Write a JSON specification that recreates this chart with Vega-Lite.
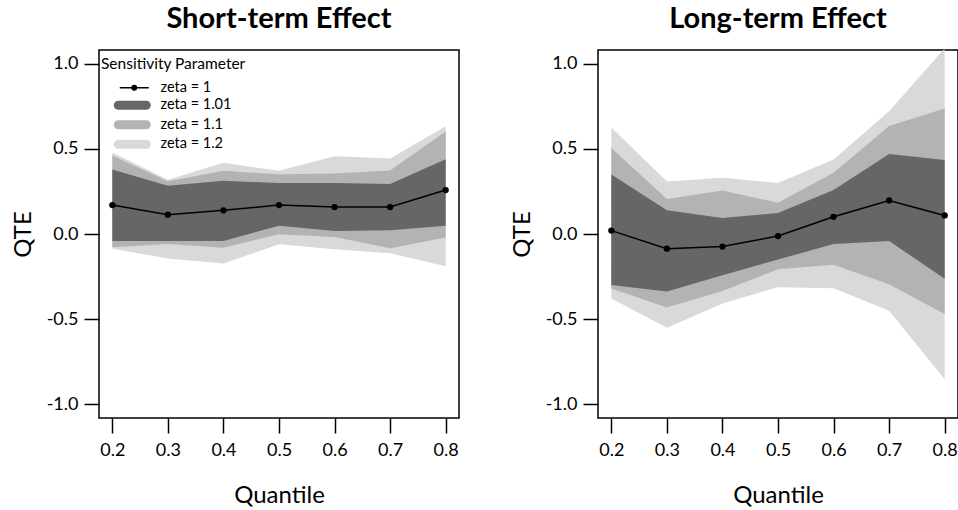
{
  "$schema": "https://vega.github.io/schema/vega-lite/v6.json",
  "padding": {"left": 10, "top": 4, "right": 0, "bottom": 0},
  "background": "white",
  "datasets": {
    "bands": [
      {"panel": "short", "quantile": 0.2, "zeta": "zeta = 1.01", "lower": -0.041, "upper": 0.379},
      {"panel": "short", "quantile": 0.3, "zeta": "zeta = 1.01", "lower": -0.041, "upper": 0.283},
      {"panel": "short", "quantile": 0.4, "zeta": "zeta = 1.01", "lower": -0.041, "upper": 0.312},
      {"panel": "short", "quantile": 0.5, "zeta": "zeta = 1.01", "lower": 0.049, "upper": 0.299},
      {"panel": "short", "quantile": 0.6, "zeta": "zeta = 1.01", "lower": 0.018, "upper": 0.300},
      {"panel": "short", "quantile": 0.7, "zeta": "zeta = 1.01", "lower": 0.022, "upper": 0.293},
      {"panel": "short", "quantile": 0.8, "zeta": "zeta = 1.01", "lower": 0.049, "upper": 0.439},
      {"panel": "short", "quantile": 0.2, "zeta": "zeta = 1.1", "lower": -0.078, "upper": 0.461},
      {"panel": "short", "quantile": 0.3, "zeta": "zeta = 1.1", "lower": -0.058, "upper": 0.309},
      {"panel": "short", "quantile": 0.4, "zeta": "zeta = 1.1", "lower": -0.080, "upper": 0.371},
      {"panel": "short", "quantile": 0.5, "zeta": "zeta = 1.1", "lower": -0.002, "upper": 0.350},
      {"panel": "short", "quantile": 0.6, "zeta": "zeta = 1.1", "lower": -0.017, "upper": 0.355},
      {"panel": "short", "quantile": 0.7, "zeta": "zeta = 1.1", "lower": -0.084, "upper": 0.373},
      {"panel": "short", "quantile": 0.8, "zeta": "zeta = 1.1", "lower": -0.021, "upper": 0.601},
      {"panel": "short", "quantile": 0.2, "zeta": "zeta = 1.2", "lower": -0.086, "upper": 0.478},
      {"panel": "short", "quantile": 0.3, "zeta": "zeta = 1.2", "lower": -0.144, "upper": 0.318},
      {"panel": "short", "quantile": 0.4, "zeta": "zeta = 1.2", "lower": -0.173, "upper": 0.418},
      {"panel": "short", "quantile": 0.5, "zeta": "zeta = 1.2", "lower": -0.060, "upper": 0.371},
      {"panel": "short", "quantile": 0.6, "zeta": "zeta = 1.2", "lower": -0.090, "upper": 0.457},
      {"panel": "short", "quantile": 0.7, "zeta": "zeta = 1.2", "lower": -0.113, "upper": 0.443},
      {"panel": "short", "quantile": 0.8, "zeta": "zeta = 1.2", "lower": -0.189, "upper": 0.632},
      {"panel": "long", "quantile": 0.2, "zeta": "zeta = 1.01", "lower": -0.300, "upper": 0.349},
      {"panel": "long", "quantile": 0.3, "zeta": "zeta = 1.01", "lower": -0.338, "upper": 0.139},
      {"panel": "long", "quantile": 0.4, "zeta": "zeta = 1.01", "lower": -0.242, "upper": 0.094},
      {"panel": "long", "quantile": 0.5, "zeta": "zeta = 1.01", "lower": -0.150, "upper": 0.123},
      {"panel": "long", "quantile": 0.6, "zeta": "zeta = 1.01", "lower": -0.059, "upper": 0.258},
      {"panel": "long", "quantile": 0.7, "zeta": "zeta = 1.01", "lower": -0.041, "upper": 0.470},
      {"panel": "long", "quantile": 0.8, "zeta": "zeta = 1.01", "lower": -0.263, "upper": 0.435},
      {"panel": "long", "quantile": 0.2, "zeta": "zeta = 1.1", "lower": -0.320, "upper": 0.505},
      {"panel": "long", "quantile": 0.3, "zeta": "zeta = 1.1", "lower": -0.431, "upper": 0.205},
      {"panel": "long", "quantile": 0.4, "zeta": "zeta = 1.1", "lower": -0.334, "upper": 0.256},
      {"panel": "long", "quantile": 0.5, "zeta": "zeta = 1.1", "lower": -0.207, "upper": 0.183},
      {"panel": "long", "quantile": 0.6, "zeta": "zeta = 1.1", "lower": -0.181, "upper": 0.359},
      {"panel": "long", "quantile": 0.7, "zeta": "zeta = 1.1", "lower": -0.295, "upper": 0.634},
      {"panel": "long", "quantile": 0.8, "zeta": "zeta = 1.1", "lower": -0.470, "upper": 0.736},
      {"panel": "long", "quantile": 0.2, "zeta": "zeta = 1.2", "lower": -0.379, "upper": 0.625},
      {"panel": "long", "quantile": 0.3, "zeta": "zeta = 1.2", "lower": -0.550, "upper": 0.308},
      {"panel": "long", "quantile": 0.4, "zeta": "zeta = 1.2", "lower": -0.408, "upper": 0.330},
      {"panel": "long", "quantile": 0.5, "zeta": "zeta = 1.2", "lower": -0.312, "upper": 0.299},
      {"panel": "long", "quantile": 0.6, "zeta": "zeta = 1.2", "lower": -0.318, "upper": 0.437},
      {"panel": "long", "quantile": 0.7, "zeta": "zeta = 1.2", "lower": -0.451, "upper": 0.720},
      {"panel": "long", "quantile": 0.8, "zeta": "zeta = 1.2", "lower": -0.853, "upper": 1.090}
    ],
    "est": [
      {"panel": "short", "quantile": 0.2, "qte": 0.170},
      {"panel": "short", "quantile": 0.3, "qte": 0.113},
      {"panel": "short", "quantile": 0.4, "qte": 0.139},
      {"panel": "short", "quantile": 0.5, "qte": 0.170},
      {"panel": "short", "quantile": 0.6, "qte": 0.158},
      {"panel": "short", "quantile": 0.7, "qte": 0.158},
      {"panel": "short", "quantile": 0.8, "qte": 0.258},
      {"panel": "long", "quantile": 0.2, "qte": 0.020},
      {"panel": "long", "quantile": 0.3, "qte": -0.086},
      {"panel": "long", "quantile": 0.4, "qte": -0.074},
      {"panel": "long", "quantile": 0.5, "qte": -0.012},
      {"panel": "long", "quantile": 0.6, "qte": 0.101},
      {"panel": "long", "quantile": 0.7, "qte": 0.197},
      {"panel": "long", "quantile": 0.8, "qte": 0.109}
    ]
  },
  "config": {
    "font": "Lato",
    "view": {"stroke": "black", "strokeWidth": 1.5},
    "axis": {
      "domain": false, "grid": false, "ticks": true,
      "tickColor": "black", "tickWidth": 1.5, "tickSize": 15,
      "labelFont": "Lato", "labelFontSize": 18, "labelColor": "black",
      "titleFont": "Lato", "titleFontSize": 24, "titleFontWeight": "normal", "titleColor": "black"
    },
    "axisX": {"labelPadding": 8, "titlePadding": 24},
    "axisY": {"labelPadding": 6, "titlePadding": 11},
    "legend": {
      "padding": 0,
      "titleFont": "Lato", "titleFontSize": 15.5, "titleFontWeight": "normal", "titleColor": "black", "titlePadding": 8,
      "labelFont": "Lato", "labelFontSize": 14.5, "labelColor": "black",
      "symbolSize": 100, "symbolOffset": 26, "labelOffset": 19, "rowPadding": 3.5
    },
    "title": {"font": "Lato", "fontSize": 29, "fontWeight": "bold", "color": "black", "anchor": "middle", "offset": 16}
  },
  "bounds": "flush",
  "spacing": 139,
  "resolve": {"scale": {"color": "independent", "stroke": "independent"}, "legend": {"color": "independent", "stroke": "independent"}},
  "hconcat": [
    {
      "title": "Short-term Effect",
      "width": 360, "height": 368,
      "layer": [
        {
          "data": {"name": "bands"},
          "transform": [{"filter": "datum.panel === 'short' && datum.zeta === 'zeta = 1.2'"}],
          "mark": {"type": "area", "opacity": 1, "clip": true},
          "encoding": {
            "x": {"field": "quantile", "type": "quantitative", "scale": {"domain": [0.176, 0.824], "nice": false, "zero": false},
                  "axis": {"values": [0.2, 0.3, 0.4, 0.5, 0.6, 0.7, 0.8], "format": ".1f", "title": "Quantile"}},
            "y": {"field": "lower", "type": "quantitative", "scale": {"domain": [-1.08, 1.08], "nice": false, "zero": false},
                  "axis": {"values": [-1, -0.5, 0, 0.5, 1], "format": ".1f", "labelExpr": "replace(datum.label, '\u2212', '-')", "title": "QTE"}},
            "y2": {"field": "upper"},
            "color": {
              "field": "zeta", "type": "nominal",
              "scale": {"domain": ["zeta = 1.01", "zeta = 1.1", "zeta = 1.2"], "range": ["#666666", "#b3b3b3", "#d9d9d9"]},
              "legend": {
                "title": null,
                "orient": "none", "legendX": 2, "legendY": 48,
                "symbolOffset": 24, "labelOffset": 21,
                "symbolType": "M-2.8,-0.9H2.8A0.9,0.9 0 0 1 2.8,0.9H-2.8A0.9,0.9 0 0 1 -2.8,-0.9Z",
                "symbolStrokeColor": "transparent",
                "symbolOpacity": 1
              }
            }
          }
        },
        {
          "data": {"name": "bands"},
          "transform": [{"filter": "datum.panel === 'short' && datum.zeta === 'zeta = 1.1'"}],
          "mark": {"type": "area", "opacity": 1, "clip": true},
          "encoding": {
            "x": {"field": "quantile", "type": "quantitative"},
            "y": {"field": "lower", "type": "quantitative"},
            "y2": {"field": "upper"},
            "color": {"field": "zeta", "type": "nominal"}
          }
        },
        {
          "data": {"name": "bands"},
          "transform": [{"filter": "datum.panel === 'short' && datum.zeta === 'zeta = 1.01'"}],
          "mark": {"type": "area", "opacity": 1, "clip": true},
          "encoding": {
            "x": {"field": "quantile", "type": "quantitative"},
            "y": {"field": "lower", "type": "quantitative"},
            "y2": {"field": "upper"},
            "color": {"field": "zeta", "type": "nominal"}
          }
        },
        {
          "mark": {"type": "rule", "color": "#cd5c5c", "strokeDash": [8, 5], "strokeWidth": 1.5},
          "encoding": {"y": {"datum": 0}}
        },
        {
          "data": {"name": "est"},
          "transform": [{"filter": "datum.panel === 'short'"}],
          "mark": {"type": "line", "strokeWidth": 1.5, "point": {"filled": true, "size": 40, "color": "black", "strokeWidth": 0, "opacity": 1}},
          "encoding": {
            "x": {"field": "quantile", "type": "quantitative"},
            "y": {"field": "qte", "type": "quantitative"},
            "stroke": {
              "datum": "zeta = 1",
              "scale": {"domain": ["zeta = 1"], "range": ["black"]},
              "legend": {
                "title": "Sensitivity Parameter",
                "orient": "none", "legendX": 2, "legendY": 7,
                "labelOffset": 19,
                "symbolType": "M-2.9,0H2.9M-0.45,0A0.45,0.45 0 1,1 0.45,0A0.45,0.45 0 1,1 -0.45,0ZM-0.2,0A0.2,0.2 0 1,1 0.2,0A0.2,0.2 0 1,1 -0.2,0Z",
                "symbolFillColor": "black",
                "symbolStrokeColor": "black",
                "symbolStrokeWidth": 1.5,
                "symbolOpacity": 1
              }
            }
          }
        }
      ]
    },
    {
      "title": "Long-term Effect",
      "width": 360, "height": 368,
      "layer": [
        {
          "data": {"name": "bands"},
          "transform": [{"filter": "datum.panel === 'long' && datum.zeta === 'zeta = 1.2'"}],
          "mark": {"type": "area", "opacity": 1, "clip": true, "color": "#d9d9d9"},
          "encoding": {
            "x": {"field": "quantile", "type": "quantitative", "scale": {"domain": [0.176, 0.824], "nice": false, "zero": false},
                  "axis": {"values": [0.2, 0.3, 0.4, 0.5, 0.6, 0.7, 0.8], "format": ".1f", "title": "Quantile"}},
            "y": {"field": "lower", "type": "quantitative", "scale": {"domain": [-1.08, 1.08], "nice": false, "zero": false},
                  "axis": {"values": [-1, -0.5, 0, 0.5, 1], "format": ".1f", "labelExpr": "replace(datum.label, '\u2212', '-')", "title": "QTE"}},
            "y2": {"field": "upper"}
          }
        },
        {
          "data": {"name": "bands"},
          "transform": [{"filter": "datum.panel === 'long' && datum.zeta === 'zeta = 1.1'"}],
          "mark": {"type": "area", "opacity": 1, "clip": true, "color": "#b3b3b3"},
          "encoding": {
            "x": {"field": "quantile", "type": "quantitative"},
            "y": {"field": "lower", "type": "quantitative"},
            "y2": {"field": "upper"}
          }
        },
        {
          "data": {"name": "bands"},
          "transform": [{"filter": "datum.panel === 'long' && datum.zeta === 'zeta = 1.01'"}],
          "mark": {"type": "area", "opacity": 1, "clip": true, "color": "#666666"},
          "encoding": {
            "x": {"field": "quantile", "type": "quantitative"},
            "y": {"field": "lower", "type": "quantitative"},
            "y2": {"field": "upper"}
          }
        },
        {
          "mark": {"type": "rule", "color": "#cd5c5c", "strokeDash": [8, 5], "strokeWidth": 1.5},
          "encoding": {"y": {"datum": 0}}
        },
        {
          "data": {"name": "est"},
          "transform": [{"filter": "datum.panel === 'long'"}],
          "mark": {"type": "line", "color": "black", "strokeWidth": 1.5, "point": {"filled": true, "size": 40, "color": "black", "strokeWidth": 0, "opacity": 1}},
          "encoding": {
            "x": {"field": "quantile", "type": "quantitative"},
            "y": {"field": "qte", "type": "quantitative"}
          }
        }
      ]
    }
  ]
}
